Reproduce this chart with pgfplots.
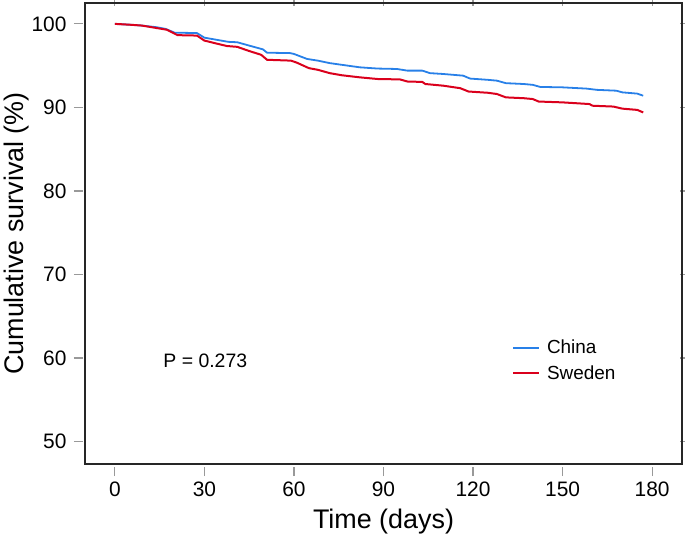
\documentclass[border=0pt]{standalone}
\usepackage{fontspec}
\setmainfont{Liberation Sans}
\usepackage{pgfplots}
\pgfplotsset{compat=1.18}
\definecolor{cnblue}{RGB}{40,128,232}
\definecolor{swred}{RGB}{218,0,28}
\begin{document}
\begin{tikzpicture}
\begin{axis}[
  name=ax,
  scale only axis,
  width=597bp, height=461bp,
  xmin=-10, xmax=190,
  ymin=47.3, ymax=102.5,
  xtick={0,30,60,90,120,150,180},
  ytick={50,60,70,80,90,100},
  axis line style={line width=1.3bp, draw=black!85},
  tick align=outside,
  major tick length=9bp,
  xtick style={draw=black!40, line width=1.2bp, yshift=-3bp},
  ytick style={draw=black!40, line width=1.2bp, xshift=-2bp},
  xticklabel style={font=\fontsize{21}{24}\selectfont, yshift=-5bp},
  yticklabel style={font=\fontsize{21}{24}\selectfont, xshift=-6bp},
  /pgf/number format/assume math mode=true,
  xlabel={Time (days)},
  ylabel={Cumulative survival (\%)},
  xlabel style={font=\fontsize{27}{30}\selectfont, yshift=-6bp},
  ylabel style={font=\fontsize{27}{30}\selectfont, yshift=-4bp},
  legend style={draw=none, fill=none, font=\fontsize{19}{22}\selectfont,
    at={(axis cs:133,59.7)}, anchor=west, row sep=6bp, inner sep=0pt},
  legend cell align=left,
  legend image code/.code={\draw[#1] (0bp,0bp) -- (26bp,0bp); \path (31bp,0bp);},
]
\addplot[cnblue, line width=1.8bp] coordinates {
(0,100) (5,99.9) (9,99.8) (14,99.6) (17,99.4) (20,98.95) (27.5,98.9) (30,98.35)
(34,98.1) (38,97.85) (41,97.8) (45,97.4) (49.6,96.95) (51,96.55) (58.7,96.5)
(60,96.4) (64.4,95.8) (68,95.6) (72,95.3) (78,95.0) (82,94.8) (88,94.65)
(94.5,94.6) (98,94.4) (103,94.4) (105.6,94.1) (110,94.0) (116.7,93.8)
(119,93.45) (125,93.3) (128,93.2) (131,92.9) (137,92.8) (140,92.7)
(142.5,92.45) (150,92.4) (158,92.25) (161.5,92.1) (168,92.0) (170,91.8)
(175,91.65) (177,91.4)
};
\addlegendentry{China}
\addplot[swred, line width=2bp] coordinates {
(0,100) (5,99.9) (9,99.8) (14,99.5) (17.4,99.3) (21,98.65) (27.5,98.6) (30,98.0)
(34,97.65) (37.5,97.35) (41,97.25) (45,96.75) (49,96.3) (51,95.7) (59,95.6)
(61,95.35) (65,94.7) (68,94.5) (72,94.1) (76,93.85) (82,93.6) (88,93.4)
(95.5,93.35) (98,93.1) (103,93.05) (104,92.8) (110,92.6) (115.7,92.3)
(118.5,91.9) (125,91.75) (128,91.6) (131,91.2) (137,91.1) (140,91.0)
(142,90.7) (150,90.6) (159,90.4) (160,90.2) (167,90.1) (170,89.85)
(175,89.7) (177,89.4)
};
\addlegendentry{Sweden}
\node[anchor=base, font=\fontsize{19.5}{22}\selectfont] at (axis cs:30.3,58.9) {P = 0.273};
\end{axis}
\pgfresetboundingbox
\path ([xshift=-85bp,yshift=-78bp]ax.south west) rectangle ([xshift=3bp,yshift=3bp]ax.north east);
\end{tikzpicture}
\end{document}
